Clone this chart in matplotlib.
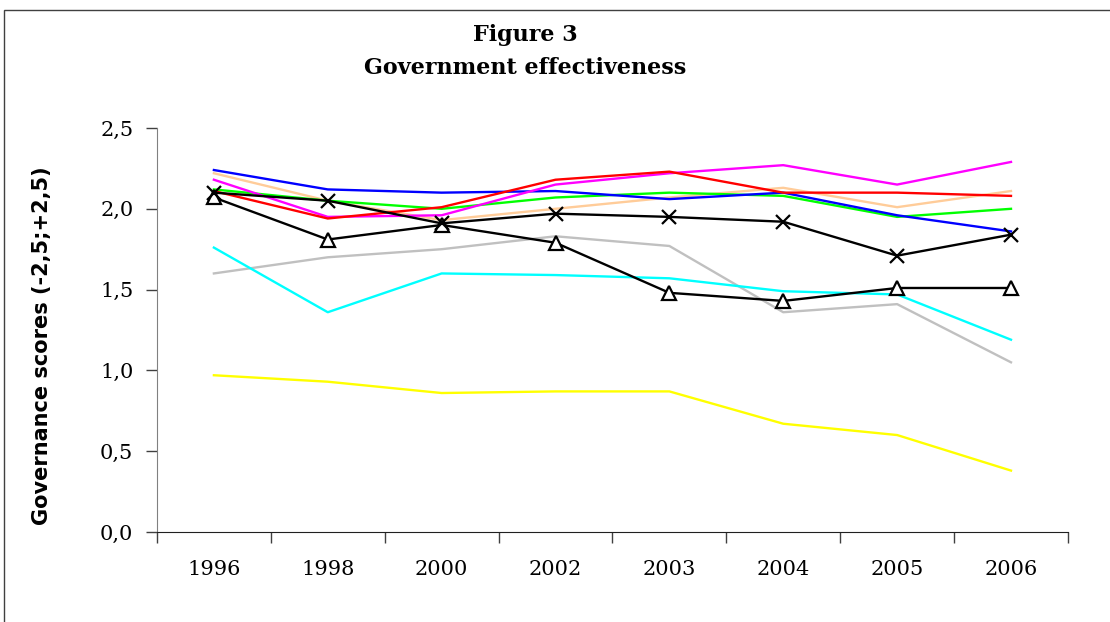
import matplotlib
matplotlib.use('Agg')
import matplotlib.pyplot as plt
from matplotlib.patches import Rectangle
from matplotlib.ticker import FuncFormatter, FixedLocator

# DATA ========================================================================

years = ['1996', '1998', '2000', '2002', '2003', '2004', '2005', '2006']

# Government effectiveness scores, one list per country.
g_blue = [2.24, 2.12, 2.10, 2.11, 2.06, 2.10, 1.96, 1.86]
g_red = [2.11, 1.94, 2.01, 2.18, 2.23, 2.10, 2.10, 2.08]
g_magenta = [2.18, 1.95, 1.96, 2.15, 2.22, 2.27, 2.15, 2.29]
g_green = [2.12, 2.05, 2.00, 2.07, 2.10, 2.08, 1.95, 2.00]
g_peach = [2.22, 2.05, 1.93, 2.00, 2.07, 2.13, 2.01, 2.11]
g_cross = [2.10, 2.05, 1.91, 1.97, 1.95, 1.92, 1.71, 1.84]
g_triangle = [2.07, 1.81, 1.90, 1.79, 1.48, 1.43, 1.51, 1.51]
g_grey = [1.60, 1.70, 1.75, 1.83, 1.77, 1.36, 1.41, 1.05]
g_cyan = [1.76, 1.36, 1.60, 1.59, 1.57, 1.49, 1.47, 1.19]
g_yellow = [0.97, 0.93, 0.86, 0.87, 0.87, 0.67, 0.60, 0.38]

y_ticks = [0.0, 0.5, 1.0, 1.5, 2.0, 2.5]

# PLOT ========================================================================

fig = plt.figure(figsize=(11.1, 6.22), dpi=100)
# Outer chart frame (runs off the right and bottom edges).
fig.patches.append(Rectangle((4, -100), 1300, 712, transform=None,
                             fill=False, edgecolor='#404040', linewidth=1.0))

ax = fig.add_axes([0.1414, 0.1447, 0.8207, 0.6495])
x = list(range(len(years)))

styles = [
    (g_grey, '#C0C0C0', None),
    (g_cyan, '#00FFFF', None),
    (g_yellow, '#FFFF00', None),
    (g_peach, '#FFCC99', None),
    (g_green, '#00FF00', None),
    (g_blue, '#0000FF', None),
    (g_magenta, '#FF00FF', None),
    (g_red, '#FF0000', None),
    (g_triangle, 'black', '^'),
    (g_cross, 'black', 'x'),
]
for vals, col, mk in styles:
    if mk is None:
        ax.plot(x, vals, color=col, lw=1.7)
    elif mk == '^':
        ax.plot(x, vals, color=col, lw=1.7, marker='^', ms=10,
                mfc='white', mec='black', mew=1.6)
    else:
        ax.plot(x, vals, color=col, lw=1.7, marker='x', ms=10, mew=1.6)

ax.set_xlim(-0.5, len(years) - 0.5)
ax.set_ylim(0, 2.5)

ax.set_xticks(x)
ax.set_xticklabels(years, family='DejaVu Serif', fontsize=15)
ax.xaxis.set_minor_locator(FixedLocator([i - 0.5 for i in range(len(years) + 1)]))
ax.tick_params(axis='x', which='major', length=0, pad=20)
ax.tick_params(axis='x', which='minor', length=8, width=1, color='#404040',
               direction='out')

ax.set_yticks(y_ticks)
ax.yaxis.set_major_formatter(FuncFormatter(lambda v, _: f'{v:.1f}'.replace('.', ',')))
for lab in ax.get_yticklabels():
    lab.set_family('DejaVu Serif')
    lab.set_fontsize(15)
ax.tick_params(axis='y', length=8, width=1, color='#404040', pad=9)

for side in ['top', 'right']:
    ax.spines[side].set_visible(False)
ax.spines['left'].set_color('#808080')
ax.spines['bottom'].set_color('#202020')

fig.text(0.473, 0.944, 'Figure 3', ha='center', va='center',
         family='DejaVu Serif', weight='bold', fontsize=16)
fig.text(0.473, 0.891, 'Government effectiveness', ha='center', va='center',
         family='DejaVu Serif', weight='bold', fontsize=16)

fig.text(0.038, 0.444, 'Governance scores (-2,5;+2,5)', rotation=90,
         ha='center', va='center', family='DejaVu Sans', weight='bold',
         fontsize=15)

fig.savefig('out.png', dpi=100)
